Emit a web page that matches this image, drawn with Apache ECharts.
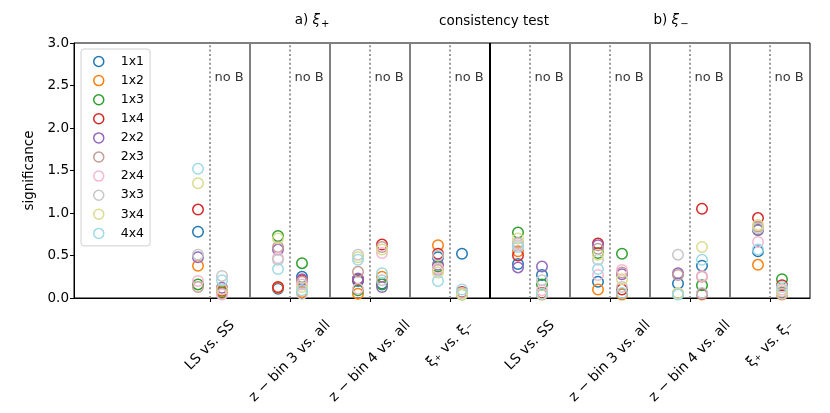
<!DOCTYPE html>
<html><head><meta charset="utf-8">
<script src="https://cdn.jsdelivr.net/npm/echarts@6/dist/echarts.min.js"></script>
<style>html,body{margin:0;padding:0;background:#fff}#c{width:830px;height:413px}</style>
</head><body><div id="c"></div>
<script>
const categories = ['LS vs. SS', 'z − bin 3 vs. all', 'z − bin 4 vs. all', 'ξ₊ vs. ξ₋',
                    'LS vs. SS', 'z − bin 3 vs. all', 'z − bin 4 vs. all', 'ξ₊ vs. ξ₋'];
const seriesNames = ['1x1', '1x2', '1x3', '1x4', '2x2', '2x3', '2x4', '3x3', '3x4', '4x4'];
const seriesColors = ['#1f77b4', '#ff7f0e', '#2ca02c', '#d62728', '#9467bd',
                      '#c49c94', '#f7b6d2', '#c7c7c7', '#dbdb8d', '#9edae5'];
const yTicks = [0, 0.5, 1.0, 1.5, 2.0, 2.5, 3.0];
const noBText = 'no B';
const noBLabelY = 2.59;

// b = with B (left of dotted line), n = no B (right of dotted line); one value per category
const b1x1 = [0.78, 0.11, 0.20, 0.48, 0.40, 0.19, 0.17, 0.55];
const n1x1 = [0.07, 0.25, 0.17, 0.52, 0.27, 0.05, 0.38, 0.06];
const b1x2 = [0.38, 0.12, 0.05, 0.62, 0.55, 0.10, 0.05, 0.39];
const n1x2 = [0.08, 0.07, 0.25, 0.05, 0.04, 0.04, 0.04, 0.04];
const b1x3 = [0.16, 0.73, 0.09, 0.37, 0.77, 0.53, 0.05, 0.80];
const n1x3 = [0.06, 0.41, 0.16, 0.04, 0.16, 0.52, 0.15, 0.22];
const b1x4 = [1.04, 0.13, 0.22, 0.52, 0.50, 0.64, 0.05, 0.94];
const n1x4 = [0.09, 0.21, 0.63, 0.07, 0.06, 0.10, 1.05, 0.15];
const b2x2 = [0.48, 0.57, 0.23, 0.39, 0.36, 0.62, 0.29, 0.80];
const n2x2 = [0.12, 0.22, 0.13, 0.05, 0.37, 0.28, 0.05, 0.07];
const b2x3 = [0.13, 0.60, 0.31, 0.33, 0.65, 0.58, 0.27, 0.84];
const n2x3 = [0.05, 0.19, 0.60, 0.06, 0.05, 0.30, 0.25, 0.05];
const b2x4 = [0.20, 0.47, 0.11, 0.35, 0.62, 0.27, 0.05, 0.66];
const n2x4 = [0.04, 0.16, 0.53, 0.05, 0.09, 0.33, 0.26, 0.10];
const b3x3 = [0.51, 0.45, 0.51, 0.50, 0.64, 0.45, 0.51, 0.82];
const n3x3 = [0.26, 0.05, 0.21, 0.06, 0.21, 0.13, 0.06, 0.05];
const b3x4 = [1.35, 0.70, 0.48, 0.30, 0.70, 0.51, 0.06, 0.86];
const n3x4 = [0.10, 0.13, 0.57, 0.04, 0.05, 0.22, 0.60, 0.08];
const b4x4 = [1.52, 0.34, 0.45, 0.20, 0.60, 0.34, 0.04, 0.57];
const n4x4 = [0.21, 0.09, 0.29, 0.10, 0.05, 0.06, 0.45, 0.13];

const withB = [b1x1, b1x2, b1x3, b1x4, b2x2, b2x3, b2x4, b3x3, b3x4, b4x4];
const noB   = [n1x1, n1x2, n1x3, n1x4, n2x2, n2x3, n2x4, n3x3, n3x4, n4x4];

const FONT = 'DejaVu Sans';
const XFS = 14;
const OFF = 0.15;

// measure label widths to emulate centered rotated labels
const ctx = document.createElement('canvas').getContext('2d');
ctx.font = XFS + 'px "' + FONT + '"';
const widths = categories.map(t => ctx.measureText(t).width);
const minW = Math.min(...widths);
const rich = {};
categories.forEach((t, i) => {
  const p = Math.max(0, (widths[i] - minW) / 2);
  rich['k' + i] = { fontSize: XFS, fontFamily: FONT, color: '#000', padding: [p, p, 0, 0] };
});

const series = seriesNames.map((name, s) => {
  const data = [];
  categories.forEach((c, i) => {
    data.push([i - OFF, withB[s][i]]);
    data.push([i + OFF, noB[s][i]]);
  });
  return {
    name, type: 'scatter', data, symbol: 'circle', symbolSize: 10.5,
    itemStyle: { color: 'rgba(0,0,0,0)', borderColor: seriesColors[s], borderWidth: 1.5, opacity: 1 },
    emphasis: { disabled: true }, silent: true, z: 3
  };
});

const lines = [];
categories.forEach((c, i) => {
  lines.push({ xAxis: i, lineStyle: { color: '#999999', width: 2, type: [2, 2.4] } });
  if (i < categories.length - 1) {
    const mid = i === categories.length / 2 - 1;
    lines.push({ xAxis: i + 0.5, lineStyle: { color: mid ? '#000' : '#808080', width: 2, type: 'solid' } });
  }
});

series.push({
  name: 'noB', type: 'scatter', symbolSize: 1, silent: true,
  itemStyle: { color: 'rgba(0,0,0,0)' },
  data: categories.map((c, i) => [i, noBLabelY]),
  label: { show: true, position: 'right', distance: 4, formatter: noBText,
           fontFamily: FONT, fontSize: 13, color: '#000' },
  markLine: { silent: true, symbol: ['none', 'none'], label: { show: false },
              animation: false, data: lines },
  z: 2
});

const titleRich = {
  n: { fontSize: 13.5, fontFamily: FONT, fontWeight: 'normal', color: '#000' },
  i: { fontSize: 13.5, fontFamily: FONT, fontWeight: 'normal', fontStyle: 'italic', color: '#000' },
  s: { fontSize: 10, fontFamily: FONT, fontWeight: 'normal', color: '#000', padding: [7, 0, 0, 1] }
};

const chart = echarts.init(document.getElementById('c'), null, { renderer: 'canvas' });
chart.setOption({
  animation: false,
  backgroundColor: '#fff',
  textStyle: { fontFamily: FONT },
  title: [
    { text: '{n|a) }{i|ξ}{s|+}', left: 307, top: 7, textAlign: 'center',
      textStyle: { fontWeight: 'normal', rich: titleRich } },
    { text: 'consistency test', left: 489, top: 9, textAlign: 'center',
      textStyle: { fontSize: 13.5, fontFamily: FONT, fontWeight: 'normal', color: '#000' } },
    { text: '{n|b) }{i|ξ}{s|−}', left: 666, top: 7, textAlign: 'center',
      textStyle: { fontWeight: 'normal', rich: titleRich } }
  ],
  legend: {
    orient: 'vertical', left: 81, top: 49,
    padding: [6, 6, 6, 12], itemGap: 6.1, itemWidth: 10, itemHeight: 10,
    backgroundColor: '#fff', borderColor: '#d0d0d0', borderWidth: 1, borderRadius: 3,
    textStyle: { fontFamily: FONT, fontSize: 12.5, lineHeight: 12, color: '#000', padding: [0, 0, 0, 12] },
    data: seriesNames.map((n, s) => ({
      name: n, icon: 'circle',
      itemStyle: { color: 'rgba(0,0,0,0)', borderColor: seriesColors[s], borderWidth: 1.5 }
    }))
  },
  grid: { left: 74, right: 20, top: 43, bottom: 115, show: true, borderColor: '#000', borderWidth: 1 },
  xAxis: {
    type: 'value', min: -1.7, max: categories.length - 0.5,
    splitLine: { show: false },
    axisLine: { onZero: false, lineStyle: { color: '#000', width: 1 } },
    axisTick: { show: true, length: 4, lineStyle: { color: '#000' },
                customValues: categories.map((c, i) => i) },
    axisLabel: {
      customValues: categories.map((c, i) => i),
      rotate: 45, align: 'center', verticalAlign: 'middle', margin: 46,
      formatter: v => { const i = Math.round(v); return '{k' + i + '|' + categories[i] + '}'; },
      rich
    }
  },
  yAxis: {
    type: 'value', min: yTicks[0], max: yTicks[yTicks.length - 1], interval: 0.5,
    name: 'significance', nameLocation: 'middle', nameGap: 38,
    nameTextStyle: { fontFamily: FONT, fontSize: 13.5, color: '#000' },
    splitLine: { show: false },
    axisLine: { show: true, onZero: false, lineStyle: { color: '#000', width: 1 } },
    axisTick: { show: true, length: 4, lineStyle: { color: '#000' } },
    axisLabel: { fontFamily: FONT, fontSize: 13.5, color: '#000', margin: 5,
                 formatter: v => v.toFixed(1) }
  },
  series
});
</script></body></html>
